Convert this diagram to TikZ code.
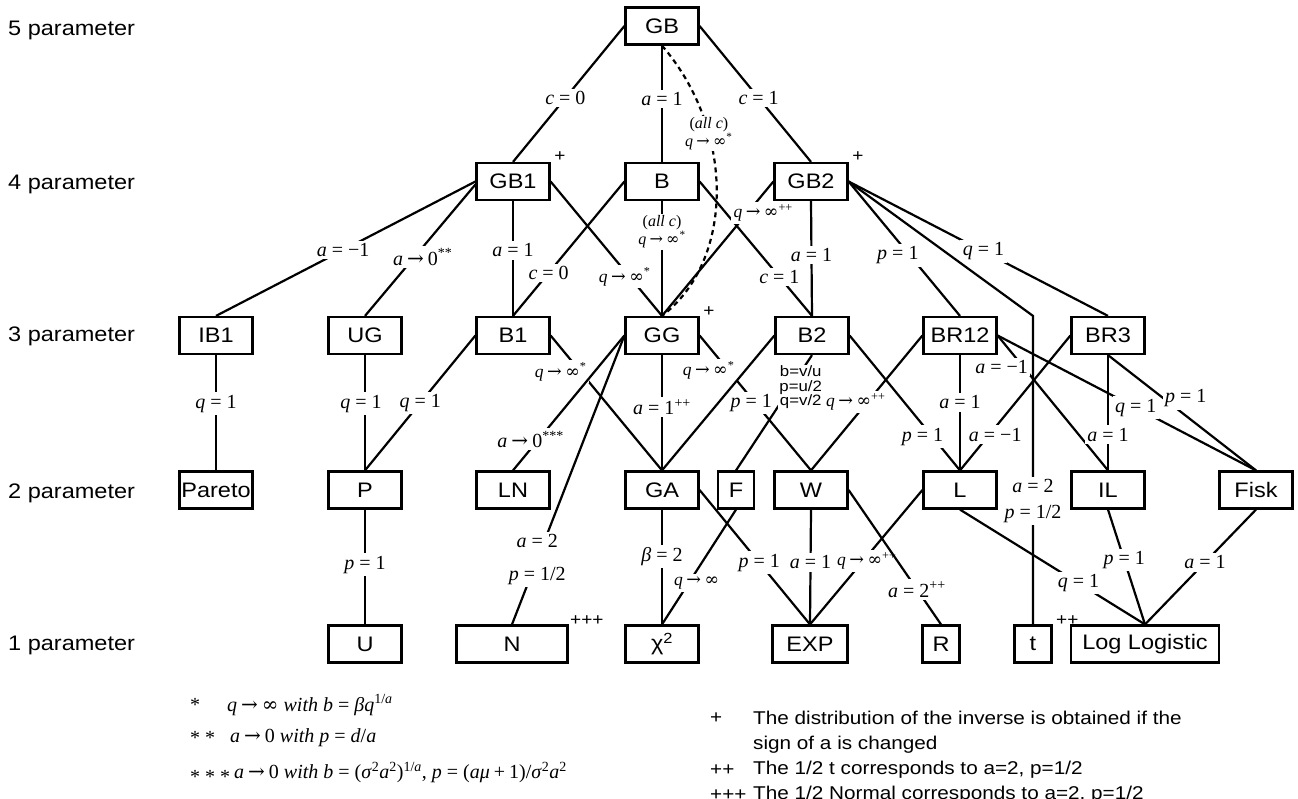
\documentclass[tikz,border=0pt]{standalone}
\usepackage{fontspec}
\setsansfont{Liberation Sans}[FakeStretch=1.12]
\newfontfamily\tms{Liberation Serif}
\newfontfamily\djs{DejaVu Serif}
\newcommand\bxfont{\sffamily\fontsize{21}{21}\selectfont}
\newcommand\lbfont{\tms\fontsize{20}{26}\selectfont}
\newcommand\arfont{\tms\fontsize{17.5}{17.5}\selectfont}
\newcommand\smfont{\tms\fontsize{16}{16.5}\selectfont}
\newcommand\sfsmall{\sffamily\fontsize{15}{14.5}\selectfont}
\newcommand\fnrfont{\sffamily\fontsize{18.5}{18.5}\selectfont}
\newcommand\plfont{\sffamily\fontsize{17}{17}\selectfont}
\newcommand\vi[1]{\textit{#1}}
\newcommand\EQ{\kern.25em=\kern.25em}
\newcommand\TO{\kern.2em{\djs →}\kern.2em}
\newcommand\INF{{\djs ∞}}
\newcommand\SUP[1]{\textsuperscript{#1}}
\tikzset{
  box/.style={draw, line width=2.2pt, fill=white, minimum width=73pt, minimum height=37pt, inner sep=1pt, font=\bxfont},
  ln/.style={line width=2.2pt},
  dashln/.style={line width=2.2pt, dash pattern=on 5pt off 4pt},
  lab/.style={fill=white, inner sep=2.5pt, font=\lbfont},
  alab/.style={fill=white, inner sep=2.5pt, font=\arfont},
  lab2/.style={fill=white, inner sep=1.5pt, font=\smfont, align=center},
  sflab/.style={fill=white, inner sep=1pt, font=\sfsmall, align=center},
  rowlab/.style={anchor=west, inner sep=0pt, font=\bxfont},
  plus/.style={inner sep=0pt, font=\plfont},
  fn/.style={anchor=west, inner sep=0pt, font=\lbfont},
  fnr/.style={anchor=west, inner sep=0pt, font=\fnrfont}
}
\begin{document}
\begin{tikzpicture}[x=1pt,y=-1pt]
\useasboundingbox (0,0) rectangle (1298,798);
% row labels
\node[rowlab] (r5) at (8,30) {5 parameter};
\node[rowlab] (r4) at (8,184) {4 parameter};
\node[rowlab] (r3) at (8,336) {3 parameter};
\node[rowlab] (r2) at (8,493) {2 parameter};
\node[rowlab] (r1) at (8,645) {1 parameter};
% boxes
\node[box] (GB) at (662,26) {GB};
\node[box] (GB1) at (513,181.5) {GB1};
\node[box] (B) at (662,181.5) {B};
\node[box] (GB2) at (811,181.5) {GB2};
\node[box] (IB1) at (216,335.5) {IB1};
\node[box] (UG) at (365,335.5) {UG};
\node[box] (B1) at (513,335.5) {B1};
\node[box] (GG) at (662,335.5) {GG};
\node[box] (B2) at (812,335.5) {B2};
\node[box] (BR12) at (960,335.5) {BR12};
\node[box] (BR3) at (1108,335.5) {BR3};
\node[box] (Pareto) at (216,490) {Pareto};
\node[box] (P) at (365,490) {P};
\node[box] (LN) at (513,490) {LN};
\node[box] (GA) at (662,490) {GA};
\node[box,minimum width=36pt] (F) at (736,490) {F};
\node[box] (W) at (811,490) {W};
\node[box] (L) at (960,490) {L};
\node[box] (IL) at (1108,490) {IL};
\node[box] (Fisk) at (1256,490) {Fisk};
\node[box] (U) at (365,644) {U};
\node[box,minimum width=111pt] (N) at (512,644) {N};
\node[box] (chi) at (662,644) {χ\textsuperscript{2}};
\node[box,minimum width=75pt] (EXP) at (810,644) {EXP};
\node[box,minimum width=37pt] (R) at (941,644) {R};
\node[box,minimum width=37pt] (t) at (1033,644) {t};
\node[box,minimum width=148pt] (LL) at (1145,644) {Log Logistic};
% plus marks
\node[plus] (pGB1) at (560,157) {+};
\node[plus] (pGB2) at (858,157) {+};
\node[plus] (pGG) at (709,312) {+};
\node[plus,anchor=west] (pN) at (570,621) {+++};
\node[plus,anchor=west] (pt) at (1056,621) {++};
% row 5 -> 4
\draw[ln] (GB.west) -- node[lab,pos=0.53] {\vi{c}\EQ 0} (GB1.north);
\draw[ln] (GB.south) -- node[lab,pos=0.46] {\vi{a}\EQ 1} (B.north);
\draw[ln] (GB.east) -- node[lab,pos=0.53] {\vi{c}\EQ 1} (GB2.north);
\coordinate (k1) at (735,130);
\coordinate (k2) at (735,260);
\draw[dashln] (GB.south) .. controls (k1) and (k2) .. node[lab2,pos=0.31] {(\vi{all c})\\\vi{q}\TO\INF\SUP{*}} (GG.north);
% row 4 -> 3
\draw[ln] (B.south) -- node[lab2,pos=0.27] {(\vi{all c})\\\vi{q}\TO\INF\SUP{*}} (GG.north);
\draw[ln] (B.west) -- node[lab,pos=0.68] {\vi{c}\EQ 0} (B1.north);
\draw[ln] (B.east) -- node[lab,pos=0.71] {\vi{c}\EQ 1} (B2.north);
\draw[ln] (GB1.west) -- node[lab,pos=0.51] {\vi{a}\EQ −1} (IB1.north);
\draw[ln] ([yshift=-3pt]GB1.west) -- node[lab,pos=0.55,xshift=8pt] {\vi{a}\TO 0\SUP{**}} (UG.north);
\draw[ln] (GB1.south) -- node[lab,pos=0.43] {\vi{a}\EQ 1} (B1.north);
\draw[ln] (GB1.east) -- node[alab,pos=0.71,xshift=-5pt] {\vi{q}\TO\INF\SUP{*}} (GG.north);
\draw[ln] (GB2.west) -- node[alab,pos=0.235,xshift=16pt] {\vi{q}\TO\INF\SUP{++}} (GG.north);
\draw[ln] (GB2.south) -- node[lab,pos=0.47] {\vi{a}\EQ 1} (B2.north);
\draw[ln] (GB2.east) -- node[lab,pos=0.55,xshift=-12pt] {\vi{p}\EQ 1} (BR12.north);
\draw[ln] (GB2.east) -- node[lab,pos=0.52] {\vi{q}\EQ 1} (BR3.north);
\coordinate (tk) at (t.north |- BR3.north);
\draw[ln] (GB2.east) -- (tk) -- node[lab,pos=0.6,align=center] {\vi{a}\EQ 2\\\vi{p}\EQ 1/2} (t.north);
% row 3 -> 2
\draw[ln] (IB1.south) -- node[lab,pos=0.42] {\vi{q}\EQ 1} (Pareto.north);
\draw[ln] (UG.south) -- node[lab,pos=0.42,xshift=-4pt] {\vi{q}\EQ 1} (P.north);
\draw[ln] (B1.west) -- node[lab,pos=0.5] {\vi{q}\EQ 1} (P.north);
\draw[ln] (B1.east) -- node[alab,pos=0.27,xshift=-20pt] {\vi{q}\TO\INF\SUP{*}} (GA.north);
\draw[ln] (GG.west) -- node[lab,pos=0.77,xshift=-8pt] {\vi{a}\TO 0\SUP{***}} (LN.north);
\draw[ln] (GG.west) -- node[lab,pos=0.776,align=center,font=\tms\fontsize{20}{33}\selectfont] {\vi{a}\EQ 2\\\vi{p}\EQ 1/2} (N.north);
\draw[ln] (GG.south) -- node[lab,pos=0.45] {\vi{a}\EQ 1\SUP{++}} (GA.north);
\draw[ln] (GG.east) -- node[alab,pos=0.26,xshift=-20pt] {\vi{q}\TO\INF\SUP{*}} node[lab,pos=0.5,xshift=-4pt] {\vi{p}\EQ 1} (W.north);
\draw[ln] (B2.west) -- (GA.north);
\draw[ln] (B2.south) -- node[sflab,pos=0.28,xshift=10pt] {b=v/u\\p=u/2\\q=v/2} (F.north);
\draw[ln] (B2.east) -- node[lab,pos=0.75,xshift=-10pt] {\vi{p}\EQ 1} (L.north);
\draw[ln] (BR12.west) -- node[alab,pos=0.49,xshift=-12pt] {\vi{q}\TO\INF\SUP{++}} (W.north);
\draw[ln] (BR12.south) -- node[lab,pos=0.41] {\vi{a}\EQ 1} (L.north);
\draw[ln] (BR12.east) -- node[lab,pos=0.235,xshift=-22pt] {\vi{a}\EQ −1} (IL.north);
\draw[ln] (BR12.east) -- node[lab,pos=0.535] {\vi{q}\EQ 1} (Fisk.north);
\draw[ln] (BR3.west) -- node[lab,pos=0.735,xshift=6pt] {\vi{a}\EQ −1} (L.north);
\draw[ln] (BR3.south) -- node[lab,pos=0.69] {\vi{a}\EQ 1} (IL.north);
\draw[ln] (BR3.south) -- node[lab,pos=0.376,xshift=22pt] {\vi{p}\EQ 1} (Fisk.north);
% row 2 -> 1
\draw[ln] (P.south) -- node[lab,pos=0.48] {\vi{p}\EQ 1} (U.north);
\draw[ln] (F.south) -- node[alab,pos=0.64,xshift=8pt] {\vi{q}\TO\INF} (chi.north);
\draw[ln] (GA.south) -- node[lab,pos=0.41] {\vi{β}\EQ 2} (chi.north);
\draw[ln] (GA.east) -- node[lab,pos=0.54] {\vi{p}\EQ 1} (EXP.north);
\draw[ln] (W.south) -- node[lab,pos=0.46] {\vi{a}\EQ 1} (EXP.north);
\draw[ln] (L.west) -- node[alab,pos=0.53,xshift=4pt] {\vi{q}\TO\INF\SUP{++}} (EXP.north);
\draw[ln] (W.east) -- node[lab,pos=0.74] {\vi{a}\EQ 2\SUP{++}} (R.north);
\draw[ln] (L.south) -- node[lab,pos=0.64] {\vi{q}\EQ 1} (LL.north);
\draw[ln] (IL.south) -- node[lab,pos=0.44] {\vi{p}\EQ 1} (LL.north);
\draw[ln] (Fisk.south) -- node[lab,pos=0.46] {\vi{a}\EQ 1} (LL.north);
% footnotes left
\node[fn] (f1s) at (190,705) {\raisebox{-0.25em}{*}};
\node[fn] (f1) at (227,705) {\vi{q}\TO\INF\ \vi{with b}\EQ \vi{βq}\SUP{1/\vi{a}}};
\node[fn] (f2s) at (190,738) {\raisebox{-0.25em}{* *}};
\node[fn] (f2) at (230,738) {\vi{a}\TO 0 \vi{with p}\EQ \vi{d}/\vi{a}};
\node[fn] (f3) at (190,773) {\raisebox{-0.25em}{* * *}\kern.2em\vi{a}\TO 0 \vi{with b}\EQ (\vi{σ}\SUP{2}\vi{a}\SUP{2})\SUP{1/\vi{a}}, \vi{p}\EQ (\vi{aμ}\kern.2em+\kern.2em1)/\vi{σ}\SUP{2}\vi{a}\SUP{2}};
% footnotes right
\node[fnr] (g1s) at (710,718) {+};
\node[fnr] (g1) at (753,718) {The distribution of the inverse is obtained if the};
\node[fnr] (g1b) at (753,745) {sign of a is changed};
\node[fnr] (g2s) at (710,770) {++};
\node[fnr] (g2) at (753,770) {The 1/2 t corresponds to a=2, p=1/2};
\node[fnr] (g3s) at (710,795) {+++};
\node[fnr] (g3) at (753,795) {The 1/2 Normal corresponds to a=2, p=1/2};
\end{tikzpicture}
\end{document}
